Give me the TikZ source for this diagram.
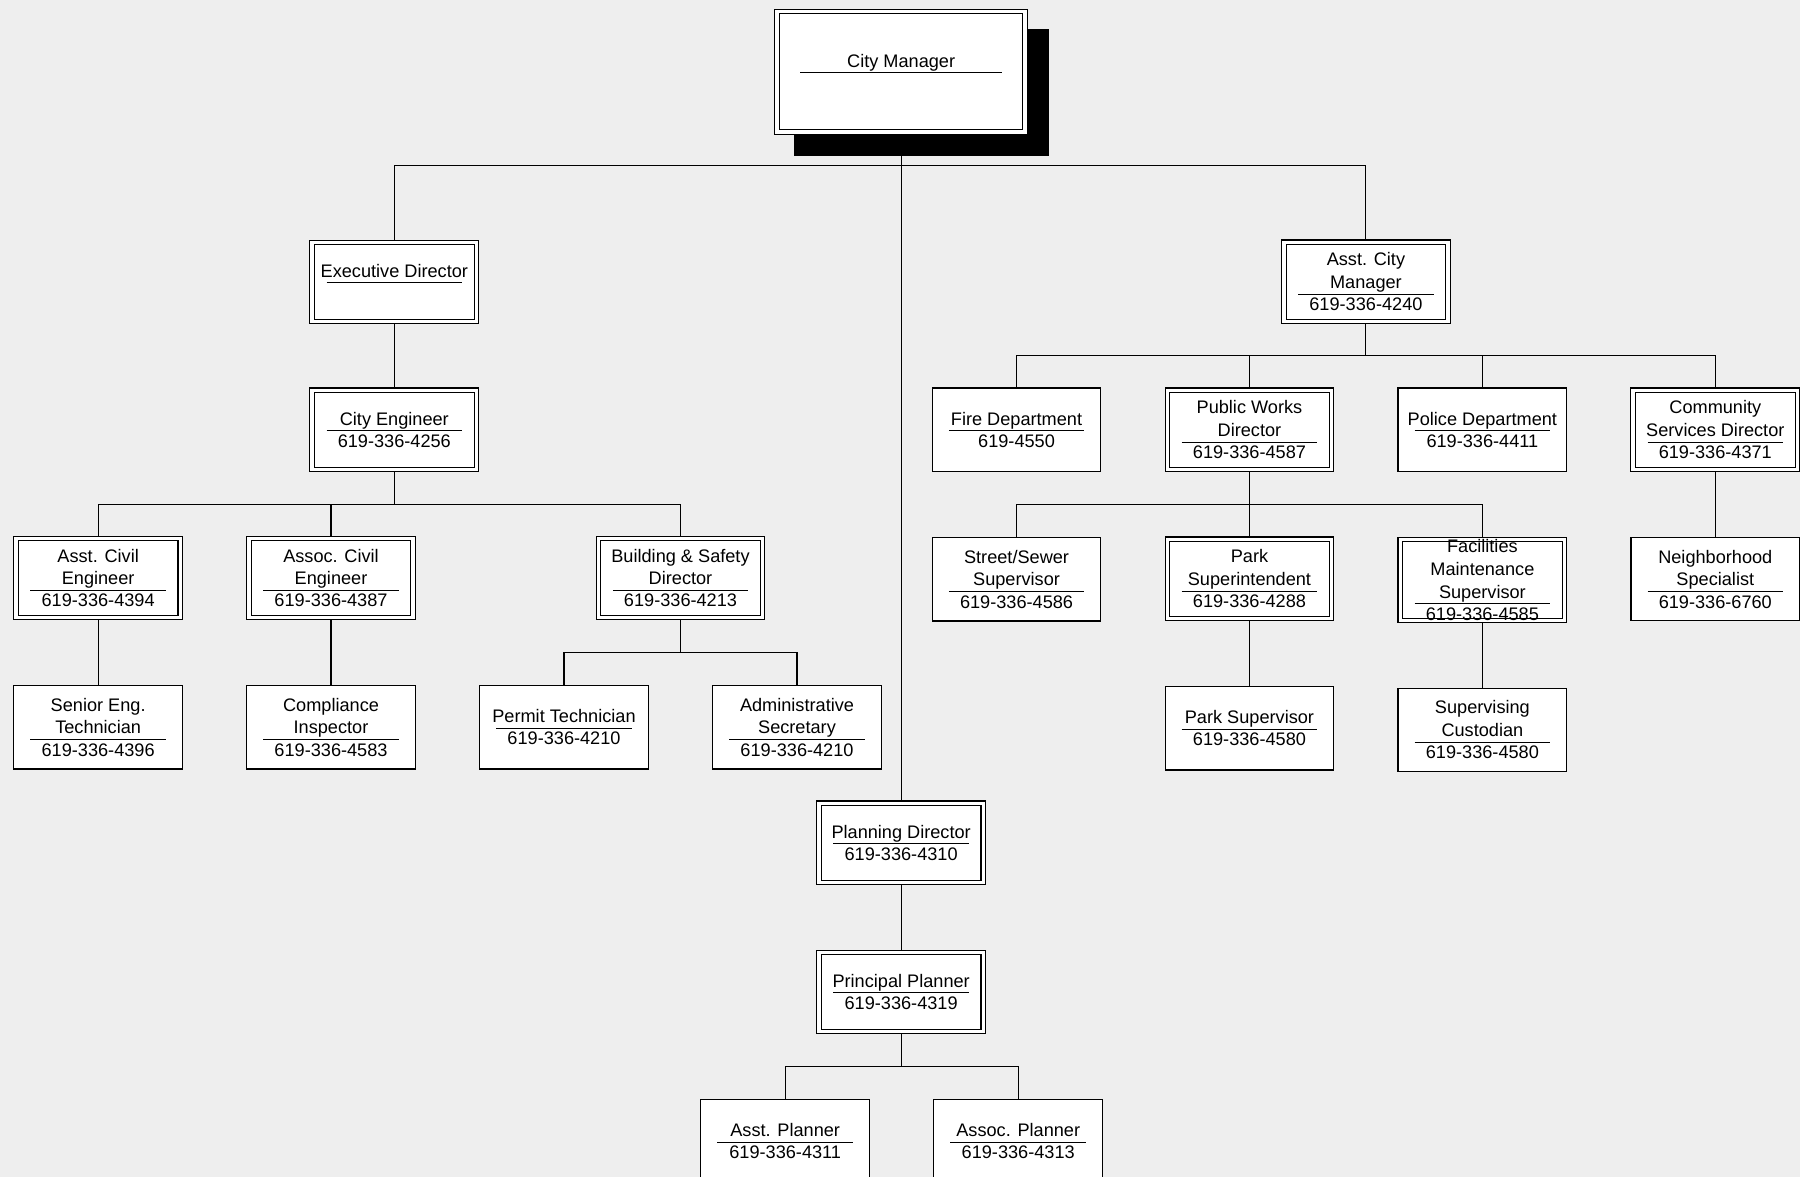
\documentclass[tikz,border=0pt]{standalone}
\usepackage{fontspec}
\setmainfont{Liberation Sans}
\usetikzlibrary{positioning, calc}
\definecolor{paper}{RGB}{238,238,238}
\newcommand{\orgfont}{\fontsize{9pt}{11.3pt}\selectfont}
\newcommand{\post}[3][2.36cm]{#2\\[-8.3pt]\rule{#1}{0.5pt}\\[-3.3pt]#3}

\begin{document}
\begin{tikzpicture}[node distance = 1.12cm and 1.1cm, line width=0.55pt,
        box/.style={draw, fill=white, inner sep=0pt, minimum width=2.94cm, minimum height=1.46cm, align=center, font=\orgfont},
        head/.style={box, double, double distance=1.7pt, outer sep=1.35pt, minimum width=2.862cm, minimum height=1.382cm}]
        \fill[paper] (0,0) rectangle (31.36,-20.5);
        \useasboundingbox (0,0) rectangle (31.36,-20.5);

        % shadow of the top box
        \fill[black] (13.84,-0.5) rectangle (18.28,-2.72);
        \node[head, minimum width=4.32cm, minimum height=2.1cm] (cm) at (15.7,-1.25)
            {\post[3.52cm]{City Manager}{\phantom{0}}};

        % left branch
        \node[head] (ce) at (6.87,-7.49) {\post{City Engineer}{619-336-4256}};
        \node[head] (ed) [above = 1.1cm of ce] {\post{Executive Director}{\phantom{0}}};
        \node[head] (ace) at (1.71,-10.07) {\post{Asst. Civil\\Engineer}{619-336-4394}};
        \node[head] (assoc) [right = of ace] {\post{Assoc. Civil\\Engineer}{619-336-4387}};
        \node[box] (sen) [below = of ace] {\post{Senior Eng.\\Technician}{619-336-4396}};
        \node[box] (ci) [below = of assoc] {\post{Compliance\\Inspector}{619-336-4583}};
        \node[box] (pt) [right = of ci] {\post{Permit Technician}{619-336-4210}};
        \node[box] (as) [right = of pt] {\post{Administrative\\Secretary}{619-336-4210}};
        \coordinate (bmid) at ($(pt.north)!0.5!(as.north)$);
        \node[head] (bsd) [above = of bmid] {\post{Building \& Safety\\Director}{619-336-4213}};

        % right branch
        \node[box] (fd) at (17.71,-7.49) {\post{Fire Department}{619-4550}};
        \node[head] (pwd) [right = of fd] {\post{Public Works\\Director}{619-336-4587}};
        \node[box] (pol) [right = of pwd] {\post{Police Department}{619-336-4411}};
        \node[head] (csd) [right = of pol] {\post{Community\\Services Director}{619-336-4371}};
        \coordinate (amid) at ($(pwd.north)!0.5!(pol.north)$);
        \node[head] (acm) [above = 1.1cm of amid] {\post{Asst. City\\Manager}{619-336-4240}};
        \node[box] (ssup) [below = of fd] {\post{Street/Sewer\\Supervisor}{619-336-4586}};
        \node[head] (psup) [below = of pwd] {\post{Park\\Superintendent}{619-336-4288}};
        \node[head] (fms) [below = of pol] {\post{Facilities\\Maintenance\\Supervisor}{619-336-4585}};
        \node[box] (ns) [below = of csd] {\post{Neighborhood\\Specialist}{619-336-6760}};
        \node[box] (psv) [below = of psup] {\post{Park Supervisor}{619-336-4580}};
        \node[box] (scu) [below = of fms] {\post{Supervising\\Custodian}{619-336-4580}};

        % planning
        \node[head] (pd) [below = 11.6cm of cm] {\post{Planning Director}{619-336-4310}};
        \node[head] (pp) [below = of pd] {\post{Principal Planner}{619-336-4319}};
        \node[box] (apl) [below = of pp, xshift=-2.02cm] {\post{Asst. Planner}{619-336-4311}};
        \node[box] (asc) [right = of apl] {\post{Assoc. Planner}{619-336-4313}};

        \coordinate (cmbus) at ([yshift=-0.54cm]cm.south);
        \coordinate (cebus) at ([yshift=-0.56cm]ce.south);
        \coordinate (bsdbus) at ([yshift=-0.56cm]bsd.south);
        \coordinate (acmbus) at ([yshift=-0.54cm]acm.south);
        \coordinate (pwdbus) at ([yshift=-0.56cm]pwd.south);
        \coordinate (ppbus) at ([yshift=-0.56cm]pp.south);

        \draw (cm) -- (pd);
        \draw (ed.north) |- (cmbus) -| (acm.north);
        \draw (ed) -- (ce);
        \draw (ce) -- (cebus);
        \draw (ace.north) |- (cebus) -| (bsd.north);
        \draw (assoc.north) -- (assoc.north |- cebus);
        \draw (ace) -- (sen);
        \draw (assoc) -- (ci);
        \draw (bsd) -- (bsdbus);
        \draw (pt.north) |- (bsdbus) -| (as.north);

        \draw (acm) -- (acmbus);
        \draw (fd.north) |- (acmbus) -| (csd.north);
        \draw (pwd.north) -- (pwd.north |- acmbus);
        \draw (pol.north) -- (pol.north |- acmbus);
        \draw (pwd) -- (psup);
        \draw (ssup.north) |- (pwdbus) -| (fms.north);
        \draw (csd) -- (ns);
        \draw (psup) -- (psv);
        \draw (fms) -- (scu);

        \draw (pd) -- (pp);
        \draw (pp) -- (ppbus);
        \draw (apl.north) |- (ppbus) -| (asc.north);
    \end{tikzpicture}
\end{document}
